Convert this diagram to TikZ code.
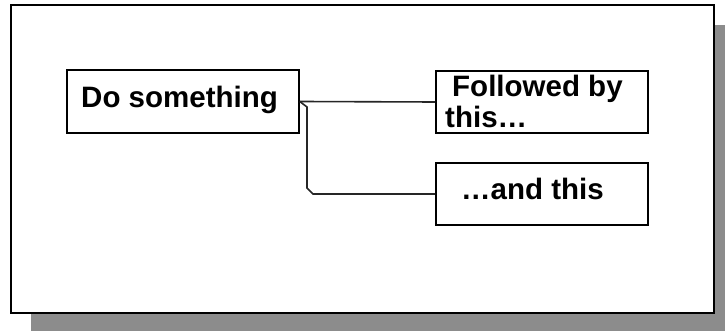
\documentclass[tikz,border=0pt]{standalone}
\usepackage{fontspec}
\setmainfont{Liberation Sans}
\begin{document}
\begin{tikzpicture}[x=1pt,y=-1pt,
  boxstyle/.style={draw=black,line width=1.6pt,fill=white,minimum width=#1,minimum height=62pt,inner sep=0pt},
  txt/.style={anchor=base west,inner sep=0pt,font=\fontsize{29.5}{34}\selectfont\bfseries},
  conn/.style={draw=black!85,line width=1.6pt}]
\useasboundingbox (0,0) rectangle (725,331);
\begin{scope}
\clip (0,0) rectangle (725,331);
\fill[black!45] (31,25) rectangle (740,345);
\end{scope}
\draw[line width=2.6pt,fill=white] (11,5) rectangle (714,313);
\node[boxstyle=232pt,minimum height=63pt] (A) at (183,101.5) {};
\node[boxstyle=212pt] (B) at (542,102) {};
\node[boxstyle=212pt] (C) at (542,194) {};
\coordinate (k1) at (307,107);
\coordinate (k2) at (307,188);
\coordinate (k3) at (313,194);
\draw[conn] (A.east) -- (B.west);
\draw[conn] (A.east) -- (k1) -- (k2) -- (k3) -- (C.west);
\node[txt] (ta) at (81,108) {Do something};
\node[txt] (tb1) at (452,97) {Followed by};
\node[txt] (tb2) at (445,128) {this…};
\node[txt] (tc) at (461,200) {…and this};
\end{tikzpicture}
\end{document}
